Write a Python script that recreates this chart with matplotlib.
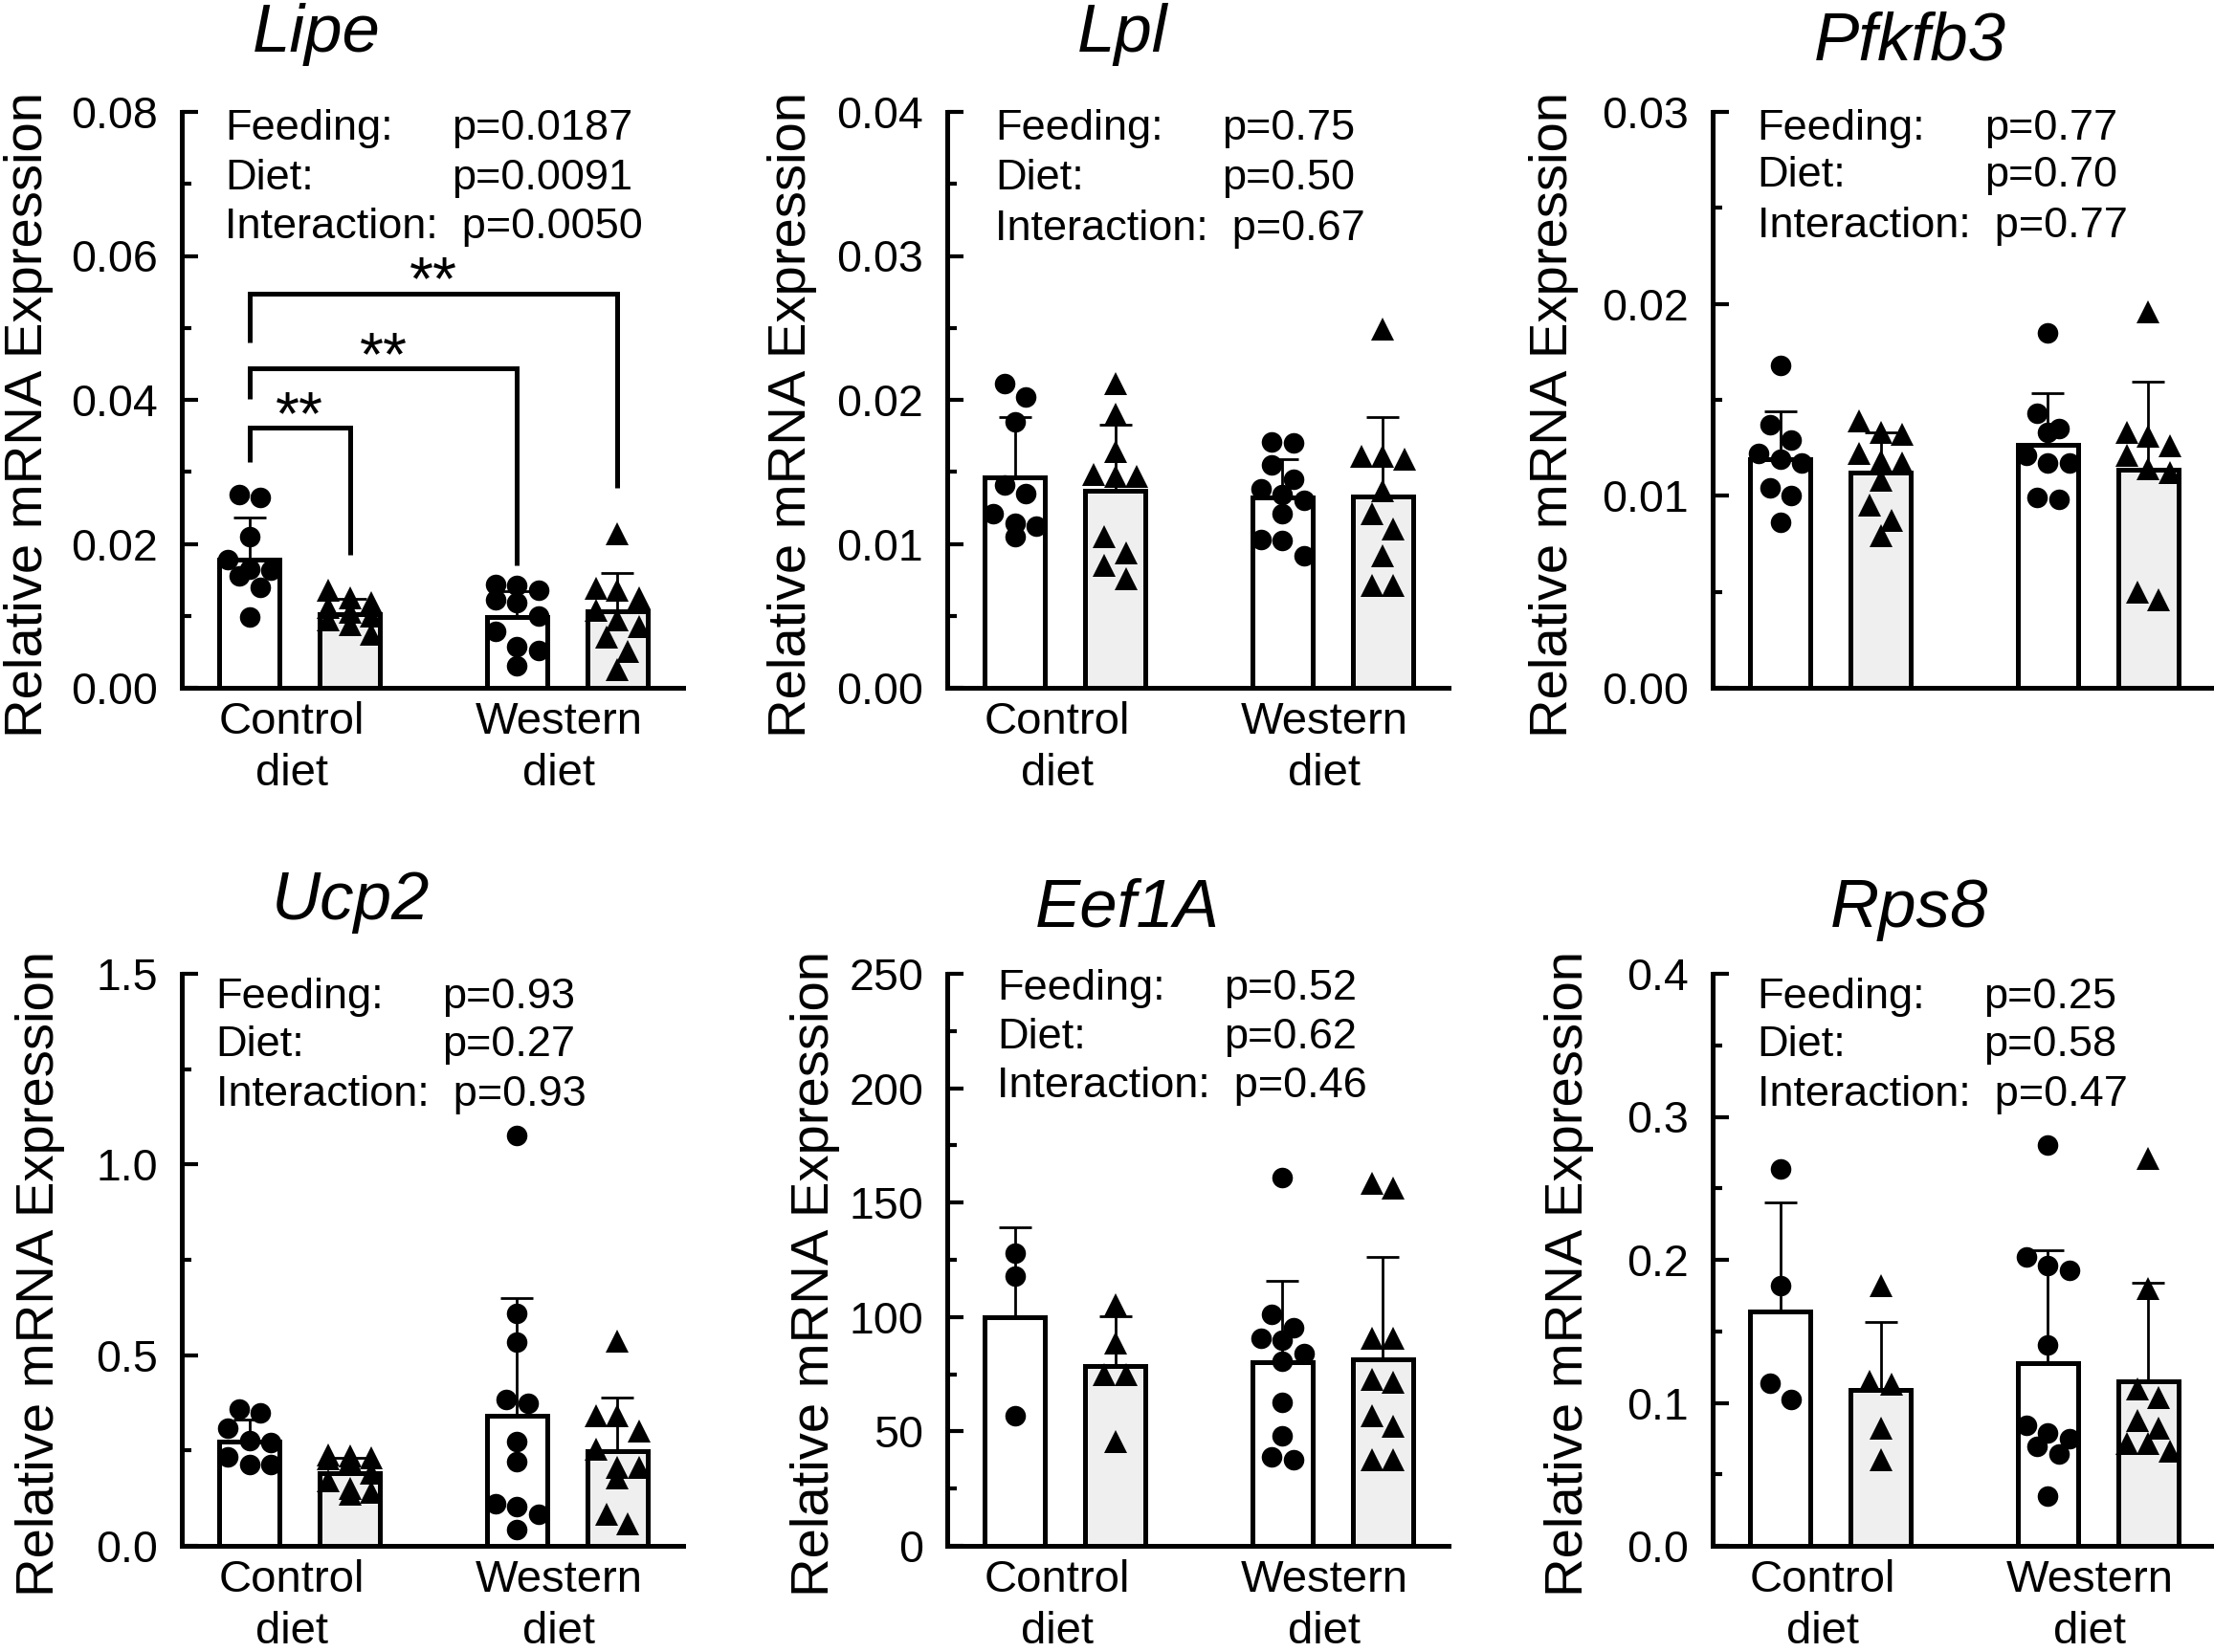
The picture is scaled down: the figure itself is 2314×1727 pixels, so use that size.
import matplotlib
matplotlib.use('Agg')
import matplotlib.pyplot as plt
from matplotlib.ticker import FixedLocator, MultipleLocator
from matplotlib.transforms import ScaledTranslation
import numpy as np

plt.rcParams['font.family'] = ['Liberation Sans', 'DejaVu Sans']

# ---------------- data ----------------
groups = ['Control\ndiet', 'Western\ndiet']
effects = ['Feeding:', 'Diet:', 'Interaction:']

# Lipe
lipe_means = [0.0178, 0.0102, 0.0099, 0.0106]
lipe_sd = [0.0059, 0.0022, 0.0035, 0.0054]
lipe_pts = [
    [0.0268, 0.0265, 0.0210, 0.0178, 0.0165, 0.0163, 0.0156, 0.0140, 0.0099],
    [0.0135, 0.0125, 0.0118, 0.0112, 0.0105, 0.0100, 0.0095, 0.0088, 0.0075],
    [0.0143, 0.0142, 0.0135, 0.0122, 0.0118, 0.0100, 0.0078, 0.0057, 0.0052, 0.0030],
    [0.0214, 0.0138, 0.0135, 0.0125, 0.0108, 0.0095, 0.0085, 0.0070, 0.0050, 0.0025]]
lipe_p = ['0.0187', '0.0091', '0.0050']
lipe_yticks = [0.00, 0.02, 0.04, 0.06, 0.08]
lipe_ylabels = ['0.00', '0.02', '0.04', '0.06', '0.08']

# Lipe significance brackets (pairs of bars, bracket level, leg ends)
lipe_pairs = [(0, 1), (0, 2), (0, 3)]
lipe_br_level = [0.0361, 0.0444, 0.0548]
lipe_br_left = [0.0314, 0.0401, 0.0480]
lipe_br_right = [0.0185, 0.0170, 0.0278]
lipe_br_text = ['**', '**', '**']

# Lpl
lpl_means = [0.0146, 0.0137, 0.0132, 0.0133]
lpl_sd = [0.0042, 0.0046, 0.0027, 0.0055]
lpl_pts = [
    [0.0211, 0.0202, 0.0185, 0.0141, 0.0135, 0.0121, 0.0114, 0.0112, 0.0105],
    [0.0211, 0.0190, 0.0164, 0.0147, 0.0148, 0.0147, 0.0105, 0.0094, 0.0085, 0.0076],
    [0.0171, 0.0170, 0.0155, 0.0145, 0.0138, 0.0134, 0.0130, 0.0121, 0.0103, 0.0102, 0.0092],
    [0.0249, 0.0159, 0.0161, 0.0161, 0.0137, 0.0121, 0.0110, 0.0092, 0.0071, 0.0071]]
lpl_p = ['0.75', '0.50', '0.67']
lpl_yticks = [0.00, 0.01, 0.02, 0.03, 0.04]
lpl_ylabels = ['0.00', '0.01', '0.02', '0.03', '0.04']

# Pfkfb3
pfk_means = [0.0119, 0.0112, 0.01265, 0.01136]
pfk_sd = [0.0025, 0.0021, 0.0027, 0.0046]
pfk_pts = [
    [0.0168, 0.0137, 0.0129, 0.0122, 0.0117, 0.0119, 0.0104, 0.0100, 0.0086],
    [0.0139, 0.0133, 0.0132, 0.0122, 0.0117, 0.0118, 0.0108, 0.0095, 0.0087, 0.0079],
    [0.0185, 0.0143, 0.0133, 0.0135, 0.0117, 0.0121, 0.0117, 0.0098, 0.0099],
    [0.0196, 0.0131, 0.0133, 0.0126, 0.0121, 0.0114, 0.0112, 0.0050, 0.0046]]
pfk_p = ['0.77', '0.70', '0.77']
pfk_yticks = [0.00, 0.01, 0.02, 0.03]
pfk_ylabels = ['0.00', '0.01', '0.02', '0.03']

# Ucp2
ucp_means = [0.274, 0.190, 0.342, 0.249]
ucp_sd = [0.057, 0.040, 0.308, 0.140]
ucp_pts = [
    [0.358, 0.348, 0.308, 0.275, 0.270, 0.233, 0.213, 0.212],
    [0.238, 0.235, 0.232, 0.228, 0.222, 0.190, 0.170, 0.150, 0.140, 0.135],
    [1.076, 0.610, 0.534, 0.385, 0.375, 0.274, 0.220, 0.111, 0.104, 0.084, 0.043],
    [0.538, 0.341, 0.341, 0.300, 0.253, 0.206, 0.206, 0.179, 0.084, 0.057]]
ucp_p = ['0.93', '0.27', '0.93']
ucp_yticks = [0.0, 0.5, 1.0, 1.5]
ucp_ylabels = ['0.0', '0.5', '1.0', '1.5']

# Eef1A
eef_means = [99.8, 78.4, 80.2, 81.7]
eef_sd = [39.6, 21.9, 35.4, 44.5]
eef_pts = [
    [128, 118, 57],
    [105.5, 88.5, 75, 75, 45.6],
    [160.8, 101, 95.3, 89.7, 90.8, 84, 80.6, 62.6, 47.9, 37.7, 38.8],
    [158.5, 156.3, 90.8, 90.8, 71.6, 72.7, 52.4, 56.9, 37.7, 37.7]]
eef_p = ['0.52', '0.62', '0.46']
eef_yticks = [0, 50, 100, 150, 200, 250]
eef_ylabels = ['0', '50', '100', '150', '200', '250']

# Rps8
rps_means = [0.1638, 0.1087, 0.1275, 0.1149]
rps_sd = [0.076, 0.048, 0.079, 0.069]
rps_pts = [
    [0.2634, 0.1819, 0.1138, 0.1022],
    [0.182, 0.113, 0.115, 0.082, 0.0605],
    [0.2804, 0.2018, 0.1928, 0.1957, 0.1402, 0.0786, 0.084, 0.075, 0.0696, 0.0641, 0.0351],
    [0.2707, 0.18, 0.1094, 0.104, 0.0877, 0.0822, 0.0714, 0.0714, 0.066]]
rps_p = ['0.25', '0.58', '0.47']
rps_yticks = [0.0, 0.1, 0.2, 0.3, 0.4]
rps_ylabels = ['0.0', '0.1', '0.2', '0.3', '0.4']

# ---------------- layout / style ----------------
FIG_W, FIG_H = 2314, 1727
DPI = 100
fig = plt.figure(figsize=(FIG_W / DPI, FIG_H / DPI), dpi=DPI)

col_left = [190, 990, 1790]
AX_W = 524
row_top = [117, 1018]
row_h = [602, 598]

x_pos = np.array([0.0, 1.0, 2.667, 3.667])
group_pos = [(x_pos[0] + x_pos[1]) / 2, (x_pos[2] + x_pos[3]) / 2]
XLIM = (-0.676, 4.324)
BAR_W = 0.60
PX_PER_X = AX_W / (XLIM[1] - XLIM[0])
MARKER_D_PX = 22.0
STEP_X = 22.5 / PX_PER_X
LW = 3.6
fills = ['white', '#efefef', 'white', '#efefef']
markers = ['o', '^', 'o', '^']
msizes = [15.5, 17.5, 15.5, 17.5]

panels = [
    dict(name='Lipe', means=lipe_means, sd=lipe_sd, pts=lipe_pts, p=lipe_p,
         yt=lipe_yticks, yl=lipe_ylabels, minor=0.01, row=0, col=0,
         tx=0.269, ty=1.105, sx=0.086, vx=0.538, base=[0.952, 0.866, 0.780],
         ylx=-0.305, xlabels=True),
    dict(name='Lpl', means=lpl_means, sd=lpl_sd, pts=lpl_pts, p=lpl_p,
         yt=lpl_yticks, yl=lpl_ylabels, minor=0.005, row=0, col=1,
         tx=0.350, ty=1.105, sx=0.095, vx=0.548, base=[0.952, 0.866, 0.778],
         ylx=-0.309, xlabels=True),
    dict(name='Pfkfb3', means=pfk_means, sd=pfk_sd, pts=pfk_pts, p=pfk_p,
         yt=pfk_yticks, yl=pfk_ylabels, minor=0.005, row=0, col=2,
         tx=0.393, ty=1.091, sx=0.089, vx=0.542, base=[0.952, 0.870, 0.782],
         ylx=-0.317, xlabels=False),
    dict(name='Ucp2', means=ucp_means, sd=ucp_sd, pts=ucp_pts, p=ucp_p,
         yt=ucp_yticks, yl=ucp_ylabels, minor=0.25, row=1, col=0,
         tx=0.337, ty=1.095, sx=0.068, vx=0.520, base=[0.940, 0.856, 0.770],
         ylx=-0.282, xlabels=True),
    dict(name='Eef1A', means=eef_means, sd=eef_sd, pts=eef_pts, p=eef_p,
         yt=eef_yticks, yl=eef_ylabels, minor=25, row=1, col=1,
         tx=0.359, ty=1.082, sx=0.100, vx=0.552, base=[0.955, 0.870, 0.784],
         ylx=-0.263, xlabels=True),
    dict(name='Rps8', means=rps_means, sd=rps_sd, pts=rps_pts, p=rps_p,
         yt=rps_yticks, yl=rps_ylabels, minor=0.05, row=1, col=2,
         tx=0.393, ty=1.082, sx=0.089, vx=0.540, base=[0.940, 0.856, 0.770],
         ylx=-0.286, xlabels=True),
]


def swarm_offsets(vals, px_per_y, d_px, step, maxrow=3):
    vals = np.asarray(vals, dtype=float)
    order = np.argsort(-vals, kind='stable')
    rows, cur = [], []
    for idx in order:
        if cur and (abs(vals[cur[0]] - vals[idx]) * px_per_y > 0.9 * d_px
                    or len(cur) >= maxrow):
            rows.append(cur)
            cur = []
        cur.append(idx)
    if cur:
        rows.append(cur)
    off = np.zeros(len(vals))
    for row in rows:
        n = len(row)
        for i, idx in enumerate(row):
            off[idx] = (i - (n - 1) / 2.0) * step
    return off


label_shift = ScaledTranslation(-6 / 72, 0, fig.dpi_scale_trans)

for pnl in panels:
    left = col_left[pnl['col']]
    top = row_top[pnl['row']]
    h = row_h[pnl['row']]
    ax = fig.add_axes([left / FIG_W, (FIG_H - top - h) / FIG_H, AX_W / FIG_W, h / FIG_H])
    ymax = pnl['yt'][-1]
    ax.set_xlim(*XLIM)
    ax.set_ylim(0, ymax)
    px_per_y = h / ymax

    # error bars (behind bars so only the upper half shows)
    ax.errorbar(x_pos, pnl['means'], yerr=pnl['sd'], fmt='none', ecolor='black',
                elinewidth=2.0, capsize=12.5, capthick=2.0, zorder=1.5)
    # bars
    ax.bar(x_pos, pnl['means'], width=BAR_W, color=fills, edgecolor='black',
           linewidth=LW, zorder=2)
    # points
    for i in range(4):
        vals = pnl['pts'][i]
        off = swarm_offsets(vals, px_per_y, MARKER_D_PX, STEP_X)
        ax.plot(x_pos[i] + off, vals, linestyle='none', marker=markers[i],
                markersize=msizes[i], color='black', markeredgewidth=0,
                zorder=4, clip_on=False)

    # axes styling
    for s in ['top', 'right']:
        ax.spines[s].set_visible(False)
    for s in ['left', 'bottom']:
        ax.spines[s].set_linewidth(LW)
        ax.spines[s].set_capstyle('projecting')
    ax.yaxis.set_major_locator(FixedLocator(pnl['yt']))
    ax.set_yticklabels(pnl['yl'])
    ax.yaxis.set_minor_locator(MultipleLocator(pnl['minor']))
    ax.tick_params(axis='y', which='major', direction='in', length=12.5,
                   width=3.0, pad=18, labelsize=33.5)
    ax.tick_params(axis='y', which='minor', direction='in', length=7,
                   width=3.0)
    ax.set_xticks(group_pos)
    if pnl['xlabels']:
        ax.set_xticklabels(groups)
    else:
        ax.set_xticklabels(['', ''])
    ax.tick_params(axis='x', length=0, pad=10, labelsize=34)
    for lbl in ax.get_xticklabels():
        lbl.set_linespacing(1.3)
        lbl.set_transform(lbl.get_transform() + label_shift)

    # y label
    ax.text(pnl['ylx'], 0.475, 'Relative mRNA Expression', rotation=90,
            ha='center', va='center', fontsize=40.5, transform=ax.transAxes)
    # title
    ax.text(pnl['tx'], pnl['ty'], pnl['name'], fontstyle='italic', fontsize=51,
            ha='center', va='baseline', transform=ax.transAxes)
    # statistics
    for k in range(3):
        if k < 2:
            ax.text(pnl['sx'], pnl['base'][k], effects[k], fontsize=32.5,
                    ha='left', va='baseline', transform=ax.transAxes)
            ax.text(pnl['vx'], pnl['base'][k], 'p=' + pnl['p'][k], fontsize=32.5,
                    ha='left', va='baseline', transform=ax.transAxes)
        else:
            ax.text(pnl['sx'], pnl['base'][k], effects[k] + '  p=' + pnl['p'][k],
                    fontsize=32.5, ha='left', va='baseline', transform=ax.transAxes)

    if pnl['name'] == 'Lipe':
        for (a, b), lv, ll, rl, t in zip(lipe_pairs, lipe_br_level, lipe_br_left,
                                         lipe_br_right, lipe_br_text):
            x0, x1 = x_pos[a], x_pos[b]
            ax.plot([x0, x0, x1, x1], [ll, lv, lv, rl], color='black', lw=LW,
                    solid_joinstyle='miter', solid_capstyle='butt', zorder=3)
            ax.annotate(t, xy=((x0 + x1) / 2, lv), xytext=(0, -5),
                        textcoords='offset points', ha='center', va='baseline',
                        fontsize=46)

fig.savefig('out.png', dpi=DPI)
